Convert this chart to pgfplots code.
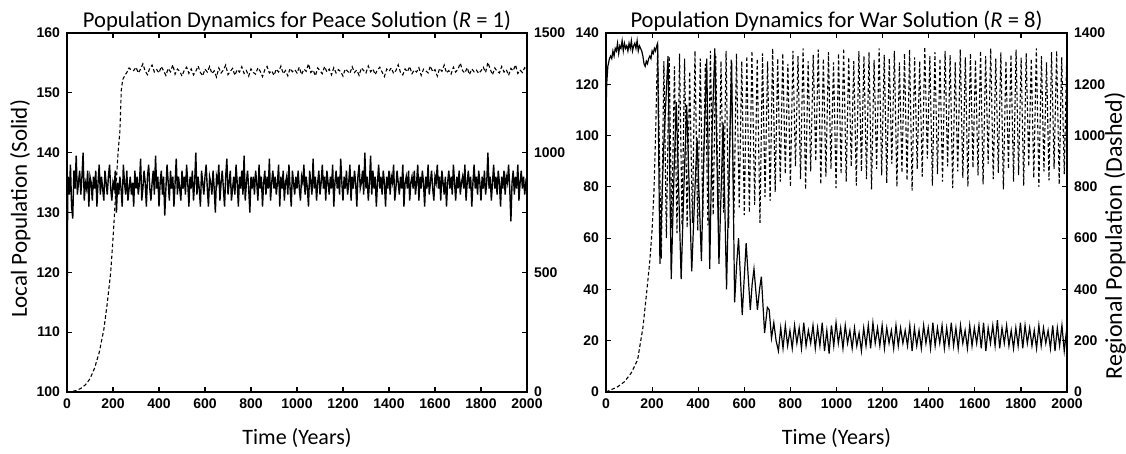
\documentclass[border=0pt]{standalone}
\usepackage{fontspec}
\setmainfont{Carlito}
\newfontfamily\tickfont{Liberation Sans}
\usepackage{pgfplots}
\pgfplotsset{compat=1.18}

% shared look of all four axes (MATLAB plotyy style)
\pgfplotsset{
  every axis title shift=0pt,
  popbase/.style={
    scale only axis, width=230pt, height=179.5pt,
    xmin=0, xmax=2000, xtick={0,200,...,2000},
    tick align=inside, major tick length=2.5pt,
    major tick style={black, line width=0.6pt},
    axis line style={line width=0.6pt},
    ticklabel style={font=\tickfont\bfseries\fontsize{7}{8}\selectfont},
    /pgf/number format/assume math mode=true,
    /pgf/number format/1000 sep={},
    title style={font=\fontsize{11.3}{13}\selectfont, at={(axis description cs:0.5,1.0167)}, anchor=base},
    xlabel style={font=\fontsize{11}{13}\selectfont, at={(axis description cs:0.5,-0.1476)}, anchor=base},
  },
  solidln/.style={black, line width=0.6pt},
  dashln/.style={black, line width=0.55pt, dash pattern=on 1.8pt off 1.2pt},
}

\begin{document}
\begin{tikzpicture}
\useasboundingbox (0,0) rectangle (563pt,227pt);

% ---------------- peace solution, local population (left axis)
\begin{axis}[popbase, at={(33.5pt,31pt)}, anchor=south west,
  ymin=100, ymax=160, ytick={100,110,...,160}, ytick pos=left,
  title={Population Dynamics for Peace Solution (\textit{R} = 1)},
  xlabel={Time (Years)},
  ylabel={Local Population (Solid)},
  ylabel style={font=\fontsize{11.5}{13}\selectfont, at={(axis description cs:-0.087,0.51)}, anchor=base},
]
\addplot[solidln, line width=0.7pt] coordinates {
(0,108)(3,134)
(5,136)(10,133)(15,138)(20,131)(25,129)(30,137)(35,134)(40,139.5)(45,133)(50,135)(55,137)(60,133)(65,136)(70,140)(75,132)(80,135)(85,134)(90,137)(95,131)(100,136)
(105,135)(110,132)(115,136)(120,134)(125,137)(130,131)(135,135)(140,138)(145,133)(150,136)(155,134)(160,132)(165,137)(170,135)(175,133)(180,136)(185,138)(190,134)(195,132)(200,135)
(205,134)(210,137)(215,130)(220,135)(225,133)(230,136)(235,134)(240,131)(245,138)(250,135)(255,133)(260,137)(265,132)(270,134)(275,136)(280,133)(285,135)(290,131)(295,137)(300,134)
(305,136)(310,133)(315,135)(320,139)(325,132)(330,134)(335,137)(340,135)(345,131)(350,136)(355,138)(360,134)(365,132)(370,135)(375,137)(380,133)(385,139.5)(390,134)(395,136)(400,131)
(405,135)(410,137)(415,133)(420,136)(425,129.5)(430,134)(435,138)(440,135)(445,132)(450,137)(455,134)(460,136)(465,131)(470,135)(475,139)(480,133)(485,136)(490,134)(495,132)(500,137)
(505,134)(510,136)(515,133)(520,138)(525,135)(530,131)(535,136)(540,134)(545,137)(550,132)(555,135)(560,140)(565,133)(570,136)(575,134)(580,131)(585,137)(590,135)(595,133)(600,136)
(605,138)(610,134)(615,131)(620,136)(625,135)(630,133)(635,137)(640,134)(645,130)(650,136)(655,135)(660,138)(665,132)(670,135)(675,137)(680,134)(685,131)(690,136)(695,139)(700,133)
(705,135)(710,137)(715,132)(720,134)(725,136)(730,133)(735,138)(740,135)(745,131)(750,136)(755,134)(760,137)(765,133)(770,139.5)(775,132)(780,135)(785,137)(790,134)(795,130)(800,136)
(805,134)(810,136)(815,133)(820,137)(825,135)(830,132)(835,138)(840,134)(845,136)(850,131)(855,135)(860,137)(865,133)(870,136)(875,134)(880,139)(885,132)(890,135)(895,137)(900,134)
(905,136)(910,133)(915,135)(920,138)(925,131)(930,136)(935,134)(940,137)(945,132)(950,135)(955,136)(960,133)(965,138)(970,134)(975,131)(980,137)(985,135)(990,133)(995,136)(1000,134)
(1005,137)(1010,134)(1015,132)(1020,136)(1025,135)(1030,138)(1035,133)(1040,136)(1045,134)(1050,131)(1055,137)(1060,135)(1065,133)(1070,139)(1075,134)(1080,136)(1085,132)(1090,135)(1095,137)(1100,133)
(1105,135)(1110,138)(1115,134)(1120,136)(1125,132)(1130,137)(1135,135)(1140,133)(1145,136)(1150,134)(1155,138)(1160,131)(1165,135)(1170,137)(1175,134)(1180,136)(1185,133)(1190,139)(1195,135)(1200,132)
(1205,136)(1210,134)(1215,137)(1220,133)(1225,135)(1230,138)(1235,132)(1240,136)(1245,134)(1250,137)(1255,135)(1260,131)(1265,136)(1270,138)(1275,134)(1280,135)(1285,137)(1290,133)(1295,140)(1300,134)
(1305,136)(1310,132)(1315,135)(1320,139.5)(1325,133)(1330,137)(1335,134)(1340,136)(1345,131)(1350,135)(1355,138)(1360,134)(1365,136)(1370,133)(1375,137)(1380,135)(1385,131)(1390,136)(1395,134)(1400,137)
(1405,133)(1410,136)(1415,135)(1420,138)(1425,132)(1430,134)(1435,137)(1440,135)(1445,133)(1450,136)(1455,134)(1460,138)(1465,131)(1470,135)(1475,136)(1480,134)(1485,137)(1490,132)(1495,135)(1500,136)
(1505,134)(1510,137)(1515,133)(1520,135)(1525,138)(1530,132)(1535,136)(1540,134)(1545,137)(1550,135)(1555,131)(1560,136)(1565,134)(1570,138)(1575,133)(1580,135)(1585,137)(1590,134)(1595,132)(1600,136)
(1605,135)(1610,138)(1615,134)(1620,136)(1625,132)(1630,137)(1635,135)(1640,133)(1645,136)(1650,131)(1655,135)(1660,137)(1665,134)(1670,136)(1675,133)(1680,138)(1685,135)(1690,132)(1695,136)(1700,134)
(1705,137)(1710,133)(1715,135)(1720,136)(1725,134)(1730,138)(1735,132)(1740,135)(1745,137)(1750,134)(1755,136)(1760,131)(1765,135)(1770,138)(1775,134)(1780,136)(1785,133)(1790,137)(1795,135)(1800,132)
(1805,136)(1810,134)(1815,137)(1820,133)(1825,135)(1830,140)(1835,134)(1840,136)(1845,132)(1850,135)(1855,138)(1860,134)(1865,136)(1870,133)(1875,137)(1880,135)(1885,131)(1890,136)(1895,134)(1900,137)
(1905,133)(1910,136)(1915,135)(1920,138)(1925,134)(1930,128.5)(1935,135)(1940,137)(1945,133)(1950,136)(1955,134)(1960,138)(1965,132)(1970,135)(1975,137)(1980,134)(1985,136)(1990,133)(1995,135)(2000,134)
};
\end{axis}

% ---------------- peace solution, regional population (right axis)
\begin{axis}[popbase, at={(33.5pt,31pt)}, anchor=south west,
  ymin=0, ymax=1500, ytick={0,250,...,1500}, yticklabels={0,,500,,1000,,1500},
  axis y line*=right, axis x line=none, tick align=inside,
]
\addplot[dashln] coordinates {
(0,0)(20,2)(40,6)(60,15)(80,30)(100,55)(120,100)(140,165)(160,260)(175,370)(190,500)(200,640)(208,770)(215,890)(222,1000)(230,1090)(236,1260)(242,1305)(250,1320)(260,1335)(270,1354)(280,1345)
(290,1343)(300,1357)(310,1333)(320,1349)(330,1371)(340,1340)(350,1326)(360,1354)(370,1366)(380,1337)(390,1347)
(400,1333)(410,1360)(420,1342)(430,1323)(440,1352)(450,1338)(460,1367)(470,1328)(480,1349)(490,1340)
(500,1320)(510,1345)(520,1357)(530,1331)(540,1350)(550,1325)(560,1340)(570,1362)(580,1335)(590,1321)
(600,1349)(610,1337)(620,1360)(630,1330)(640,1342)(650,1316)(660,1354)(670,1333)(680,1345)(690,1366)
(700,1326)(710,1340)(720,1352)(730,1323)(740,1347)(750,1337)(760,1359)(770,1331)(780,1343)(790,1320)
(800,1350)(810,1335)(820,1328)(830,1355)(840,1340)(850,1318)(860,1347)(870,1360)(880,1333)(890,1342)
(900,1323)(910,1349)(920,1337)(930,1362)(940,1330)(950,1343)(960,1321)(970,1352)(980,1338)(990,1347)
(1000,1333)(1010,1357)(1020,1326)(1030,1349)(1040,1340)(1050,1371)(1060,1335)(1070,1345)(1080,1321)(1090,1354)
(1100,1342)(1110,1330)(1120,1360)(1130,1337)(1140,1349)(1150,1325)(1160,1355)(1170,1333)(1180,1347)(1190,1338)
(1200,1320)(1210,1350)(1220,1340)(1230,1331)(1240,1359)(1250,1335)(1260,1345)(1270,1323)(1280,1354)(1290,1343)
(1300,1333)(1310,1362)(1320,1338)(1330,1350)(1340,1326)(1350,1347)(1360,1357)(1370,1337)(1380,1318)(1390,1349)
(1400,1340)(1410,1354)(1420,1331)(1430,1343)(1440,1367)(1450,1335)(1460,1325)(1470,1350)(1480,1338)(1490,1360)
(1500,1330)(1510,1345)(1520,1337)(1530,1355)(1540,1323)(1550,1349)(1560,1342)(1570,1333)(1580,1362)(1590,1338)
(1600,1347)(1610,1320)(1620,1352)(1630,1340)(1640,1366)(1650,1333)(1660,1343)(1670,1328)(1680,1357)(1690,1337)
(1700,1349)(1710,1374)(1720,1342)(1730,1333)(1740,1355)(1750,1326)(1760,1350)(1770,1338)(1780,1345)(1790,1331)
(1800,1342)(1810,1357)(1820,1335)(1830,1377)(1840,1349)(1850,1325)(1860,1354)(1870,1340)(1880,1333)(1890,1360)
(1900,1337)(1910,1347)(1920,1323)(1930,1352)(1940,1342)(1950,1367)(1960,1331)(1970,1345)(1980,1335)(1990,1355)(2000,1340)
};
\end{axis}

% ---------------- war solution, local population (left axis)
\begin{axis}[popbase, at={(303pt,31pt)}, anchor=south west, width=230.5pt,
  ymin=0, ymax=140, ytick={0,20,...,140}, ytick pos=left,
  title={Population Dynamics for War Solution (\textit{R} = 8)},
  xlabel={Time (Years)},
]
\addplot[solidln] coordinates {
(0,108)(3,120)(8,127)(15,130)(20,131)(25,130)(30,133)(35,131)(40,134)(45,133)(50,136)(55,132)(60,135)(65,134)(70,137)(75,133)(80,136)(85,134)(90,135)(95,133)(100,136)
(105,134)(110,137)(115,133)(120,135)(125,136)(130,134)(135,137)(140,133)(145,135)(150,134)(155,133)(160,131)(165,128)(170,127)(175,129)(180,128)(185,130)(190,131)(195,130)(200,133)
(205,132)(210,134)(215,133)(220,135)(224,136)(229,90)(234,50)(250,95)(269,131)(283,44)(295,85)(305,113)(326,44)(338,80)(350,112)(372,47)(384,75)(395,99)(414,51)(425,95)(437,130)
(450,48)(460,100)(472,134)(490,50)(500,80)(508,105)(523,40)(535,90)(545,129)(558,35)(567,50)(575,60)(591,30)(600,45)(608,58)(626,32)(634,42)(642,48)(657,32)(666,40)(674,45)
(688,23)(700,33)(708,32)(718,21)(728,27)(738,20)(748,16)
(758,25)(768,17)(778,26)(788,18)(798,24)(808,17)(818,26)(828,19)(838,25)(848,17)(858,27)(868,18)(878,24)(888,19)(898,26)(908,17)(918,25)(928,18)(938,27)(948,16)
(958,24)(968,15)(978,26)(988,18)(998,27)(1008,19)(1018,25)(1028,17)(1038,26)(1048,19)(1058,24)(1068,17)(1078,25)(1088,18)(1098,23)(1108,16)(1118,25)(1128,18)(1138,26)(1148,17)
(1158,27)(1168,19)(1178,25)(1188,18)(1198,26)(1208,17)(1218,25)(1228,19)(1238,24)(1248,17)(1258,26)(1268,18)(1278,25)(1288,19)(1298,24)(1308,18)(1318,26)(1328,16)(1338,25)(1348,18)
(1358,24)(1368,17)(1378,26)(1388,19)(1398,25)(1408,17)(1418,27)(1428,18)(1438,25)(1448,19)(1458,26)(1468,17)(1478,25)(1488,18)(1498,27)(1508,18)(1518,25)(1528,17)(1538,26)(1548,19)
(1558,24)(1568,17)(1578,26)(1588,18)(1598,25)(1608,19)(1618,26)(1628,17)(1638,27)(1648,16)(1658,25)(1668,19)(1678,26)(1688,18)(1698,28)(1708,17)(1718,25)(1728,19)(1738,26)(1748,18)
(1758,24)(1768,17)(1778,25)(1788,18)(1798,27)(1808,17)(1818,26)(1828,19)(1838,25)(1848,18)(1858,24)(1868,17)(1878,26)(1888,18)(1898,25)(1908,19)(1918,24)(1928,17)(1938,26)(1948,16)
(1958,25)(1968,18)(1978,26)(1988,16)(1998,24)(2000,22)
};
\end{axis}

% ---------------- war solution, regional population (right axis)
\begin{axis}[popbase, at={(303pt,31pt)}, anchor=south west, width=230.5pt,
  ymin=0, ymax=1400, ytick={0,200,...,1400},
  axis y line*=right, axis x line=none, tick align=inside,
  ylabel={Regional Population (Dashed)},
  ylabel style={font=\fontsize{12}{14}\selectfont, at={(axis description cs:1.119,0.435)}, anchor=base},
]
\addplot[dashln] coordinates {
(0,0)(20,8)(50,20)(80,40)(110,75)(137,125)(160,250)(176,385)(190,510)(200,632)(208,780)(215,1000)(220,1200)(224,1330)
(240,520)(251,1290)(262,600)(274,1310)(285,640)(297,1270)(308,620)(319,1320)(330,650)(341,1300)(352,640)(363,1250)(375,660)(386,1330)(398,630)(409,1300)(420,680)(431,1280)
(442,650)(453,1330)(465,690)(476,1310)(488,660)(499,1290)(510,700)(521,1330)(532,640)(543,1300)(555,680)(566,1320)(578,720)(589,1290)(600,690)(611,1310)(622,700)(633,1330)
(645,730)(656,1300)(668,660)(679,1320)(690,760)(701,1290)(712,745)(723,1340)
(734,780)(745,1300)(756,820)(767,1320)(778,850)(789,1280)(800,800)(811,1330)(822,880)(833,1310)(844,830)(855,1340)(866,790)(877,1290)(888,860)(899,1315)(910,900)(921,1335)
(932,810)(943,1300)(954,840)(965,1325)(976,870)(987,1285)(998,795)(1009,1320)(1020,850)(1031,1340)(1042,820)(1053,1305)(1064,880)(1075,1290)(1086,805)(1097,1330)(1108,860)(1119,1310)
(1130,830)(1141,1325)(1152,790)(1163,1295)(1174,870)(1185,1340)(1196,845)(1207,1315)(1218,815)(1229,1300)(1240,890)(1251,1330)(1262,800)(1273,1285)(1284,855)(1295,1320)(1306,825)(1317,1335)
(1328,785)(1339,1305)(1350,870)(1361,1290)(1372,840)(1383,1345)(1394,910)(1405,1310)(1416,805)(1427,1325)(1438,850)(1449,1300)(1460,820)(1471,1330)(1482,880)(1493,1315)(1504,795)(1515,1285)
(1526,860)(1537,1335)(1548,835)(1559,1305)(1570,800)(1581,1320)(1592,875)(1603,1295)(1614,845)(1625,1330)(1636,810)(1647,1310)(1658,890)(1669,1340)(1680,830)(1691,1300)(1702,855)(1713,1325)
(1724,790)(1735,1290)(1746,870)(1757,1315)(1768,820)(1779,1335)(1790,845)(1801,1305)(1812,805)(1823,1320)(1834,880)(1845,1300)(1856,835)(1867,1340)(1878,800)(1889,1310)(1900,860)(1911,1285)
(1922,825)(1933,1325)(1944,870)(1955,1330)(1966,810)(1977,1305)(1988,850)(1999,1315)(2000,1300)
};
\end{axis}
\end{tikzpicture}
\end{document}
